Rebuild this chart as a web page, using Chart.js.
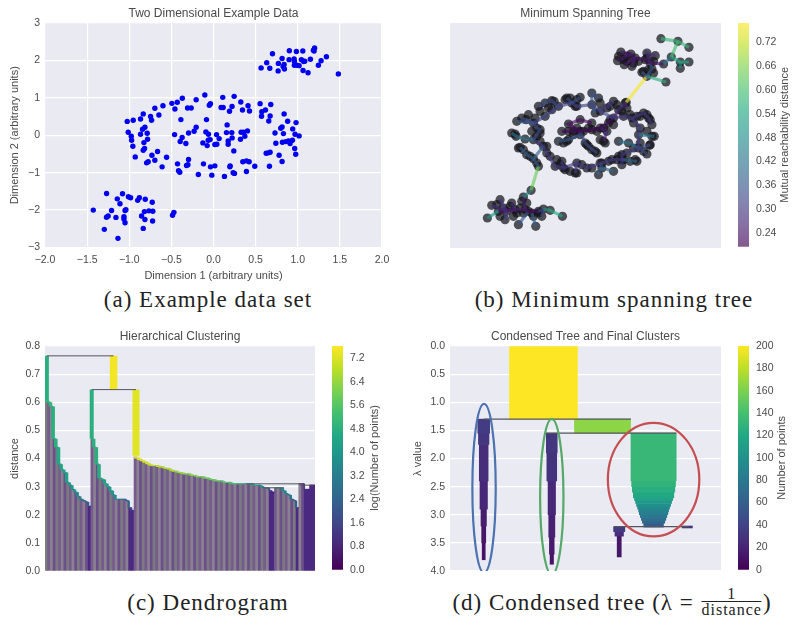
<!DOCTYPE html>
<html>
<head>
<meta charset="utf-8">
<script src="https://cdn.jsdelivr.net/npm/chart.js@4/dist/chart.umd.js"></script>
<style>
  html, body { margin: 0; background: #fff; }
  body { position: relative; width: 800px; height: 624px; overflow: hidden; }
  canvas { position: absolute; }
  .cap { position: absolute; transform: translateX(-50%); white-space: nowrap; font: 23px "Liberation Serif", serif; color: #222; letter-spacing: 1px; line-height: 26px; }
  .frac { display: inline-block; vertical-align: middle; text-align: center; font-size: 16px; line-height: 15px; margin: -6px 1px 0; }
  .frac span { display: block; }
  .frac .num { border-bottom: 1px solid #222; }
</style>
</head>
<body>
<canvas id="scatter" width="400" height="285" style="left:0;top:0"></canvas>
<canvas id="mst" width="330" height="260" style="left:400px;top:0"></canvas>
<canvas id="mstBar" width="60" height="260" style="left:738px;top:0"></canvas>
<canvas id="dendro" width="330" height="260" style="left:0;top:323px"></canvas>
<canvas id="dendroBar" width="60" height="260" style="left:332px;top:323px"></canvas>
<canvas id="tree" width="330" height="260" style="left:400px;top:323px"></canvas>
<canvas id="treeBar" width="60" height="260" style="left:738px;top:323px"></canvas>
<div class="cap" style="left:208px;top:287px">(a) Example data set</div>
<div class="cap" style="left:614px;top:287px">(b) Minimum spanning tree</div>
<div class="cap" style="left:208px;top:590px">(c) Dendrogram</div>
<div class="cap" style="left:612px;top:590px">(d) Condensed tree (λ = <span class="frac"><span class="num">1</span><span>distance</span></span>)</div>
<script>
// (a) scatter: top right blob, bottom left blob, ring and its centre
const blobTop = [[.565,1.8],[.632,1.94],[.668,1.79],[.7,2.18],[.77,1.92],[.767,1.72],[.814,2.05],[.838,1.89],[.842,1.77],[.826,1.84],[.9,2.26],[.897,2.02],[.984,2.24],[.957,2.04],[.96,1.97],[.99,1.87],[1.016,1.86],[.96,1.87],[1.06,2.25],[1.043,2.02],[1.07,1.97],[1.083,1.98],[1.063,1.73],[1.122,1.67],[1.15,2.03],[1.186,2.27],[1.2,2.33],[1.194,2.25],[1.245,1.87],[1.277,1.99],[1.34,2.1],[1.482,1.64]];
const blobBottom = [[-1.427,-2],[-1.269,-1.556],[-1.21,-2.01],[-1.25,-2.16],[-1.27,-2.19],[-1.158,-2.195],[-1.296,-2.515],[-1.134,-2.755],[-1.142,-1.7],[-1.08,-1.565],[-1.11,-1.83],[-1.05,-2.01],[-1.04,-1.99],[-1.063,-2.18],[-1.063,-2.24],[-1.05,-2.34],[-1.01,-1.645],[-.984,-1.67],[-.9,-1.74],[-.88,-1.67],[-.81,-1.71],[-.727,-1.79],[-.82,-2.04],[-.767,-2.02],[-.72,-2.03],[-.854,-2.16],[-.814,-2.25],[-.723,-2.29],[-.834,-2.49],[-.47,-2.06],[-.486,-2.14]];
const ringPoints = [[-1.024,.37],[-.953,.4],[-.866,.435],[-.834,.57],[-.747,.5],[-.735,.4],[-.696,.72],[-.648,.54],[-.6,.79],[-.494,.853],[-.43,.88],[-.37,.987],[-.458,.7],[-.206,.95],[-.308,.73],[-.265,.73],[-.103,1.076],[-.036,.844],[-.05,.8],[.11,1.013],[.245,1.04],[.09,.74],[.115,.74],[.22,.77],[.19,.64],[.324,.89],[.344,.675],[.41,.79],[.427,.65],[.553,.844],[.573,.63],[.617,.675],[.57,.507],[.68,.82],[.672,.515],[.656,.38],[.838,.57],[.88,.373],[.98,.338],[.814,.222],[.798,.187],[.94,.17],[.73,.06],[.83,.044],[.968,.027],[1.016,-.018],[.937,-.133],[.89,-.15],[.858,-.17],[.818,-.187],[.909,-.222],[.964,-.355],[.976,-.507],[.74,-.213],[.625,-.48],[.652,-.47],[.672,-.453],[.779,-.533],[.814,-.7],[.664,-.827],[.49,-.827],[.423,-.71],[.391,-.684],[.348,-.71],[.391,-.969],[.241,-.418],[.233,-1.004],[.249,-1.02],[.13,-1.1],[.198,-.818],[.194,-.844],[-.02,-1.067],[-.036,-.844],[.016,-.818],[-.119,-.764],[-.18,-1.05],[-.296,-.65],[-.304,-.79],[-.32,-.81],[-.427,-.764],[-.415,-.95],[-.4,-.987],[-.557,-.587],[-.61,-.844],[-.664,-.436],[-.696,-.667],[-.731,-.533],[-.775,-.71],[-.794,-.738],[-.818,-.355],[-.834,-.4],[-.929,-.578],[-.957,-.293],[-.972,-.133],[-.976,-.027],[-1.012,.08],[-.866,.027],[-.787,.053],[-.783,-.107],[-.826,-.196],[-.842,.16],[-.814,.213]];
const centrePoints = [[-.387,.418],[-.462,.018],[-.372,-.062],[-.395,-.169],[-.328,-.222],[-.296,.062],[-.23,.107],[-.206,.213],[-.083,.418],[-.09,.089],[-.06,.027],[-.126,-.204],[-.075,-.276],[-.063,-.133],[-.04,-.116],[.036,.018],[.067,-.09],[.016,-.249],[.04,-.24],[.162,.276],[.154,.071],[.217,.071],[.174,-.151],[.174,-.24],[.221,-.071],[.32,-.107],[.328,.08],[.356,.08],[.372,-.027],[.403,.116]];

// (b) spanning tree branches, arbitrary layout units, one weight per branch
const mstWeights = [.58,.6,.42,.55,.48,.24,.24,.24,.26,.28,.36,.56,.76,
  .42,.34,.36,.32,.34,.34,.34,.36,.36,.3,.28,.3,.42,.3,.42,.34,.34,.3,.4,.3,.38,.4,.3,.3,.38,.36,.64,
  .22,.22,.26,.34,.36,
  .45,.26,.28,.28,.5,.22,.28,.3,.22,.36,.38,.34,.55];
const mstBranches = [
  [[78.2,62.8],[83.3,62],[86.6,60.2]],[[83.3,62],[81.3,57.3]],[[81.3,57.3],[79,55.2]],[[81.3,57.3],[84,55.8],[86.6,55.8]],[[84,55.8],[84,53.9]],
  [[79,55.2],[75,55.5],[73.5,56.5],[70.5,57],[69.2,58.2],[66.2,58.8]],[[70.5,57],[67.2,55]],[[69.2,58.2],[65.2,56.2]],[[70.5,57],[69.5,54.5]],
  [[75,55.5],[74,58.5],[76.5,57.7]],[[75,55.5],[75.5,53.7],[74,51.5],[72.5,52.7]],[[74,51.5],[79.7,49.8]],[[74,51.5],[67.8,43.7]],
  [[33.5,34.5],[34.8,33.5],[37.5,32.7],[40,32.5]],[[40,32.5],[42,35.5],[41,36],[40,37.5],[36.5,39]],[[40,37.5],[35,38]],
  [[40,37.5],[43.5,39.5],[47.5,42.5],[51.5,43.5],[53,42.5],[57.5,43],[60,41],[64,39]],[[47.5,42.5],[45.5,44.2],[43.5,43.5],[41.5,42.5]],
  [[51.5,43.5],[50,45]],[[51.5,43.5],[54,45.2]],[[57.5,43],[57.5,46.5],[59.5,45]],[[57.5,43],[58.5,40.5]],[[60,41],[64,44],[62,42]],
  [[64,39],[65.5,41.5],[67.5,43.5],[68,42]],[[64,39],[67,39.5],[69.5,39],[73,40.5],[74.5,39],[75.5,37]],[[71.5,34],[76.2,33.5]],
  [[69.5,39],[72,36],[71.5,34],[71.5,30],[66.5,28]],[[65.5,32],[68.5,31.5],[71.5,30]],[[71.5,30],[75,31]],[[71.5,30],[74,28.2]],[[66.5,28],[66.5,25]],[[66.5,26.5],[71,26]],
  [[66.5,26.5],[63.5,26.5],[60.5,25.5],[56,24],[53,25.5],[49,24],[46.5,24.5],[44,28.5],[43,30.5],[40,32.5]],[[60.5,25.5],[59.5,22]],[[60.5,24],[64,23]],
  [[53,25.5],[52.5,22.5]],[[49,24],[48.5,26]],[[43,30.5],[40,26.8],[38,28],[36,30.2]],[[40,26.8],[41.5,24.5]],[[41.5,24.5],[39.3,17.3]],
  [[64,39],[62.5,37.5],[60,36],[57.5,35.5],[54,35],[50.5,35],[48.5,35]],[[54,35],[50.5,37.2],[54,38.5],[57.5,37.5]],[[60,36],[62,35],[61,32]],
  [[54,35],[55.5,31.5],[56.5,30.5],[59,28.5]],[[54,34],[50.5,32.5],[47.5,32]],
  [[39.3,17.3],[37,15.3]],[[37,15.3],[37.5,11.5],[34.5,11.5],[32,11]],[[32,11],[30,14.5]],[[32,11],[27.5,12.8]],[[26.2,9],[29.5,11]],[[29.5,11],[34.5,11.5]],
  [[33.5,13.5],[34.5,11.5]],[[31.5,8.5],[32,11]],[[37.5,11.5],[38.5,11],[41.5,11]],[[38.5,11],[35.5,7]],[[39.5,10.5],[40.7,6.5]],[[41.5,11],[43,11.7],[42.5,9.5]],[[43,11.7],[45,11.3],[48.7,9.5]]
];
// nodes sitting along the branches, same units
const mstExtraNodes = [[38.5,40],[37.8,38.5],[42,41],[44.5,42],[45.5,41.5],[46.2,44],[49.5,44.5],[51,45],[53,44.5],[52.5,42.5],
  [34.5,34.2],[35.5,30],[37,29.5],[39,27.5],[41,25.5],[42,34.5],[41,33.5],[39.5,35],[40.5,39],
  [42,32],[44,30.5],[45,27.5],[47,26.5],[48,25],[49.5,23.5],[51,23],[53,22.5],[54.5,25],[57.5,24],[60,25.5],[62.5,26],[65,26.5],[67,26.5],[69,26],[70.5,26.5],
  [70,37.5],[72,39.5],[74,40],[75,38.5],[74,35],[75.5,33.5],[74.8,30.8],[73,29],[72,31.5],[70,30],[68,28.5],[65.5,27.5],
  [49,31.5],[50,32],[52,35],[53,36],[55,35],[56.5,36],[59,35],[61,36],[63,38.5],[64,37],[52,34],[56,31],[57.5,29.5],[58.5,29],[60,32.5],[61.5,31.5],
  [60,43.5],[63,42.5],[65,43],[66.5,41],[69,40],[71,39.5],
  [67,56.5],[68,57.5],[65.5,57.5],[68,56],[70,55.5],[71.5,56],[74,57],[76,56],[73,53],[74.5,53.5],[76,52.5],
  [29,13],[31,12],[33,12.5],[35,10.5],[37,10.5],[36,12],[40,9.5],[41.5,10.5],[34,9.5],[30,9.5],[38,13.5],[36.5,14]];

// (c) dendrogram, one height and one log(count) per leaf
const leafHeights = [.605,.6,.585,.47,.44,.38,.36,.35,.315,.305,.29,.28,.265,.255,.25,.245,.23,
  .47,.44,.38,.33,.325,.31,.3,.285,.27,.255,.255,.255,.255,.25,.225,.215,
  .405,.4,.395,.39,.385,.38,.375,.375,.375,.37,.37,.365,.365,.36,.355,.355,.35,.35,.345,.345,.345,.34,.34,.335,.335,.335,.33,.33,.325,.325,.32,.32,.32,.315,.315,.315,.31,.31,.31,.31,.31,.31,.31,.31,.305,.305,.305,.3,.295,.295,.285,.28,.295,.295,.295,.285,.275,.27,.255,.25,.225,.31,.31,.29,.29,.305,.305];
const leafLogCounts = [5,5,4.8,4.8,4.6,4.5,4.4,4.3,4.1,4,3.8,3.6,3.3,3,2.6,2.2,1,
  4.8,4.8,4.7,4.5,4.4,4.3,4.1,3.9,3.7,3.3,3,2.8,2.6,2.4,1.8,1,
  7.3,7.2,7.2,7.1,7.1,7,7,6.9,6.9,6.8,6.8,6.7,6.7,6.6,6.6,6.5,6.5,6.4,6.4,6.3,6.3,6.2,6.2,6.1,6.1,6,6,5.9,5.9,5.8,5.8,5.7,5.6,5.6,5.5,5.4,5.3,5.2,5.1,5,4.9,4.8,4.6,4.4,4.2,4,3.8,3.6,3.2,2.2,1.2,.7,4,3.9,3.7,3.5,3.3,3,2.6,2.2,1.4,1,1.2,1.2,.8,.8,.7];
const darkLeaves = [16,31,32,83,84,93,96,97,98,99];
const topLinkX = [.2,24.9,16.8,33.2];
const topLinkHigh = [.765,.765,.645,.645];
const topLinkLow = [.6,.645,.47,.41];
const topLinkLog = [4.8,7.5,4.8,7.3];
const topLinkWidth = [4,7.5,4,7];
const mergeY = [.765,.645,.31,.296,.305];
const mergeFrom = [.2,16.8,74,80,94];
const mergeTo = [24.9,33.2,94,88,99];

// (d) condensed tree: branch centre, lambda edges and point counts per row
const branchX = [280,457,101,305,610,507,711];
const branchLambda = [
  [0,1.3],
  [1.3,1.55],
  [1.3,1.55,1.75,2.4,2.9,3.2,3.5,3.8],
  [1.55,1.9,2.4,3,3.4,3.7,3.88],
  [1.55,2.4,2.5,2.6,2.7,2.75,2.8,2.85,2.9,2.95,3,3.05,3.1,3.15,3.22],
  [3.22,3.3,3.38,3.75],
  [3.2,3.235]
];
const branchCount = [
  [200],
  [165],
  [35,31,26,22,16,12,9],
  [32,29,22,18,14,10],
  [133,129,125,119,112,106,100,94,88,84,78,72,66,58],
  [33,25,12],
  [30]
];
const splitLambda = [1.3,1.55,3.21];
const splitFrom = [101,287,490];
const splitTo = [542,678,716];
const ringCentreX = [102,305,610];
const ringCentreL = [2.53,2.68,2.375];
const ringRadiusX = [35,35,137];
const ringRadiusL = [1.5,1.38,1.01];
const ringColors = ['#4c72b0','#55a868','#c44e52'];

// colorbar ticks
const mstBarTicks = [.24,.3,.36,.42,.48,.54,.6,.66,.72];
const dendroBarTicks = [0,.8,1.6,2.4,3.2,4,4.8,5.6,6.4,7.2];
const treeBarTicks = [0,20,40,60,80,100,120,140,160,180,200];

const viridisStops = ['#440154','#482475','#414487','#355f8d','#2a788e','#21918c','#22a884','#44bf70','#7ad151','#bddf26','#fde725'];

function viridis(t, alpha = 1) {
  const p = Math.min(Math.max(t, 0), 1) * (viridisStops.length - 1);
  const i = Math.min(Math.floor(p), viridisStops.length - 2);
  const hex = s => [1, 3, 5].map(k => parseInt(s.substr(k, 2), 16));
  const a = hex(viridisStops[i]), b = hex(viridisStops[i + 1]);
  const c = a.map((v, k) => Math.round(v + (b[k] - v) * (p - i)));
  return `rgba(${c[0]},${c[1]},${c[2]},${alpha})`;
}

const PANEL_BG = '#eaeaf2';
const TEXT = '#4a4a4a';
const FONT_FAMILY = '"Liberation Sans", Arial, sans-serif';

Chart.defaults.animation = false;
Chart.defaults.font.family = FONT_FAMILY;
Chart.defaults.font.size = 11;
Chart.defaults.color = TEXT;

// paints the grey panel behind the plot
const panelPlugin = {
  id: 'panel',
  beforeDraw(chart) {
    const a = chart.chartArea, ctx = chart.ctx;
    ctx.save();
    ctx.fillStyle = PANEL_BG;
    ctx.fillRect(a.left, a.top, a.width, a.height);
    ctx.restore();
  }
};

function titleOpts(text) {
  return { display: true, text, fullSize: false, color: TEXT, font: { size: 12, weight: 'normal', lineHeight: 1.2 }, padding: { top: 6.8, bottom: 1.8 } };
}

function leftAxis(min, max, step, label, extra = {}) {
  return Object.assign({
    min, max,
    position: 'left',
    afterFit: s => { s.width = 45; },
    ticks: { stepSize: step, padding: 5, color: TEXT, font: { size: 10.5 }, callback: v => Number(v).toFixed(1).replace('-', '\u2212') },
    grid: { color: '#fff', lineWidth: 1.2, drawTicks: false },
    border: { display: false },
    title: { display: true, text: label, color: TEXT, font: { size: 11 }, padding: { top: 8, bottom: 0 } }
  }, extra);
}

function hiddenAxis(min, max) {
  return { type: 'linear', min, max, display: false, offset: false };
}

function baseOptions(title, scales, padding) {
  return {
    responsive: false,
    devicePixelRatio: 1,
    layout: { padding },
    plugins: { legend: { display: false }, tooltip: { enabled: false }, title: title ? titleOpts(title) : { display: false } },
    scales
  };
}

function makeColorbar(id, min, max, ticks, digits, label, labelX, alpha) {
  new Chart(document.getElementById(id), {
    type: 'bar',
    data: {
      labels: ['bar'],
      datasets: [{
        data: [[min, max]],
        barPercentage: 1,
        categoryPercentage: 1,
        backgroundColor(c) {
          const a = c.chart.chartArea;
          if (!a) return 'transparent';
          const g = c.chart.ctx.createLinearGradient(0, a.bottom, 0, a.top);
          viridisStops.forEach((_, i, all) => g.addColorStop(i / (all.length - 1), viridis(i / (all.length - 1), alpha)));
          return g;
        }
      }]
    },
    options: baseOptions(null, {
      x: { display: false },
      y: {
        position: 'right', min, max,
        afterFit: s => { s.width = 49; },
        afterBuildTicks: s => { s.ticks = ticks.map(v => ({ value: v })); },
        ticks: { autoSkip: false, padding: 7, color: TEXT, font: { size: 10.5 }, callback: v => digits === null ? String(v) : Number(v).toFixed(digits) },
        grid: { display: false, drawTicks: false },
        border: { display: false }
      }
    }, { top: 23, bottom: 12 }),
    plugins: [{
      id: 'barLabel',
      afterDraw(chart) {
        const a = chart.chartArea, ctx = chart.ctx;
        ctx.save();
        ctx.translate(labelX, (a.top + a.bottom) / 2);
        ctx.rotate(-Math.PI / 2);
        ctx.textAlign = 'center';
        ctx.textBaseline = 'middle';
        ctx.fillStyle = TEXT;
        ctx.font = `11px ${FONT_FAMILY}`;
        ctx.fillText(label, 0, 0);
        ctx.restore();
      }
    }]
  });
}

function toXY(list) {
  return list.map(p => ({ x: p[0], y: p[1] }));
}

// (a) Example data
function initScatter() {
  new Chart(document.getElementById('scatter'), {
    type: 'scatter',
    data: {
      datasets: [{
        data: toXY([...blobTop, ...blobBottom, ...ringPoints, ...centrePoints]),
        backgroundColor: '#0000f0',
        borderWidth: 0,
        pointRadius: 2.7
      }]
    },
    options: baseOptions('Two Dimensional Example Data', {
      x: {
        type: 'linear', min: -2, max: 2,
        afterFit: s => { s.height = 37.5; },
        ticks: { stepSize: 0.5, padding: 6, color: TEXT, font: { size: 10.5 }, callback: v => Number(v).toFixed(1).replace('-', '\u2212') },
        grid: { color: '#fff', lineWidth: 1.2, drawTicks: false },
        border: { display: false },
        title: { display: true, text: 'Dimension 1 (arbitrary units)', color: TEXT, font: { size: 11 }, padding: { top: 0, bottom: 2 } }
      },
      y: leftAxis(-3, 3, 1, 'Dimension 2 (arbitrary units)', {
        ticks: { stepSize: 1, padding: 5, color: TEXT, font: { size: 10.5 }, callback: v => String(v).replace('-', '\u2212') }
      })
    }, { right: 18 }),
    plugins: [panelPlugin]
  });
}

// (b) Minimum spanning tree
function initMst() {
  const seen = new Set();
  const nodes = [];
  [...mstBranches.flat(), ...mstExtraNodes].forEach(p => {
    const key = p.join();
    if (!seen.has(key)) { seen.add(key); nodes.push(p); }
  });
  const datasets = [{
    data: toXY(nodes), order: 2,
    backgroundColor: 'rgba(20,20,25,0.72)', borderWidth: 0, pointRadius: 4.6
  }];
  mstBranches.forEach((branch, i) => {
    datasets.push({
      type: 'line', data: toXY(branch), order: 1,
      borderColor: viridis((mstWeights[i] - 0.206) / 0.562, 0.65),
      borderWidth: 3.2, pointRadius: 0, tension: 0
    });
  });
  new Chart(document.getElementById('mst'), {
    type: 'scatter',
    data: { datasets },
    options: baseOptions('Minimum Spanning Tree', { x: hiddenAxis(15, 96.2), y: hiddenAxis(0, 67.5) }, { left: 50, right: 9, bottom: 12 }),
    plugins: [panelPlugin]
  });
}

// (c) Dendrogram
function initDendro() {
  const shades = ['#7b7a80', '#765c8c', '#8b8090', '#6b4f8a'];
  const datasets = [{
    type: 'bar', order: 3,
    data: leafHeights.map((h, i) => ({ x: i, y: h })),
    barThickness: 2.8,
    backgroundColor: leafHeights.map((_, i) => darkLeaves.includes(i) ? '#4b2a82' : shades[i % shades.length])
  }];
  const logColor = v => viridis(v / 7.63);
  const seg = (pts, color, width, order) => ({
    type: 'line', data: pts, order, borderColor: color, borderWidth: width, pointRadius: 0, tension: 0
  });
  leafHeights.forEach((h, i) => {
    datasets.push(seg([{ x: i - 0.5, y: h }, { x: i + 0.5, y: h }], logColor(leafLogCounts[i]), 1.2, 2));
    const next = leafHeights[i + 1];
    if (next !== undefined && next < h) {
      datasets.push(seg([{ x: i + 0.5, y: h }, { x: i + 0.5, y: next }], logColor(leafLogCounts[i]), 1 + leafLogCounts[i] * 0.55, 2));
    }
  });
  topLinkX.forEach((x, i) => {
    datasets.push(seg([{ x, y: topLinkHigh[i] }, { x, y: topLinkLow[i] }], logColor(topLinkLog[i]), topLinkWidth[i], 2));
  });
  mergeY.forEach((y, i) => {
    datasets.push(seg([{ x: mergeFrom[i], y }, { x: mergeTo[i], y }], '#55555f', 1, 1));
  });
  new Chart(document.getElementById('dendro'), {
    type: 'bar',
    data: { datasets },
    options: baseOptions('Hierarchical Clustering', {
      x: hiddenAxis(-0.5, 99.5),
      y: leftAxis(0, 0.8, 0.1, 'distance')
    }, { right: 15, bottom: 12 }),
    plugins: [panelPlugin]
  });
}

// (d) Condensed tree
function initTree() {
  const PX_PER_POINT = 1.02 / 3;
  const datasets = [];
  branchX.forEach((x, b) => {
    branchCount[b].forEach((count, r) => {
      datasets.push({
        type: 'bar', order: 3, stack: 'tree',
        data: [{ x, y: [branchLambda[b][r], branchLambda[b][r + 1]] }],
        barThickness: count * PX_PER_POINT,
        backgroundColor: viridis(count / 200)
      });
    });
  });
  splitLambda.forEach((y, i) => {
    datasets.push({
      type: 'line', order: 1,
      data: [{ x: splitFrom[i], y }, { x: splitTo[i], y }],
      borderColor: '#55555f', borderWidth: 1.3, pointRadius: 0, tension: 0
    });
  });
  new Chart(document.getElementById('tree'), {
    type: 'bar',
    data: { datasets },
    options: baseOptions('Condensed Tree and Final Clusters', {
      x: hiddenAxis(0, 812),
      y: leftAxis(0, 4, 0.5, '\u03bb value', {
        reverse: true,
        stacked: false,
        afterFit: s => { s.width = 50; },
        title: { display: true, text: '\u03bb value', color: TEXT, font: { size: 11 }, padding: { top: 11, bottom: 0 } }
      })
    }, { right: 9, bottom: 12 }),
    plugins: [panelPlugin, {
      id: 'clusterRings',
      afterDatasetsDraw(chart) {
        const { ctx, chartArea: a, scales: { x, y } } = chart;
        ctx.save();
        ctx.beginPath();
        ctx.rect(a.left, a.top, a.width, a.height);
        ctx.clip();
        ctx.lineWidth = 2.2;
        ringCentreX.forEach((cx, i) => {
          const px = x.getPixelForValue(cx), py = y.getPixelForValue(ringCentreL[i]);
          const rx = x.getPixelForValue(cx + ringRadiusX[i]) - px;
          const ry = y.getPixelForValue(ringCentreL[i] + ringRadiusL[i]) - py;
          ctx.beginPath();
          ctx.ellipse(px, py, rx, ry, 0, 0, Math.PI * 2);
          ctx.strokeStyle = ringColors[i];
          ctx.stroke();
        });
        ctx.restore();
      }
    }]
  });
}

initScatter();
initMst();
makeColorbar('mstBar', 0.206, 0.768, mstBarTicks, 2, 'Mutual reachability distance', 47, 0.65);
initDendro();
makeColorbar('dendroBar', 0, 7.63, dendroBarTicks, 1, 'log(Number of points)', 43, 1);
initTree();
makeColorbar('treeBar', 0, 200, treeBarTicks, null, 'Number of points', 44, 1);
</script>
</body>
</html>
